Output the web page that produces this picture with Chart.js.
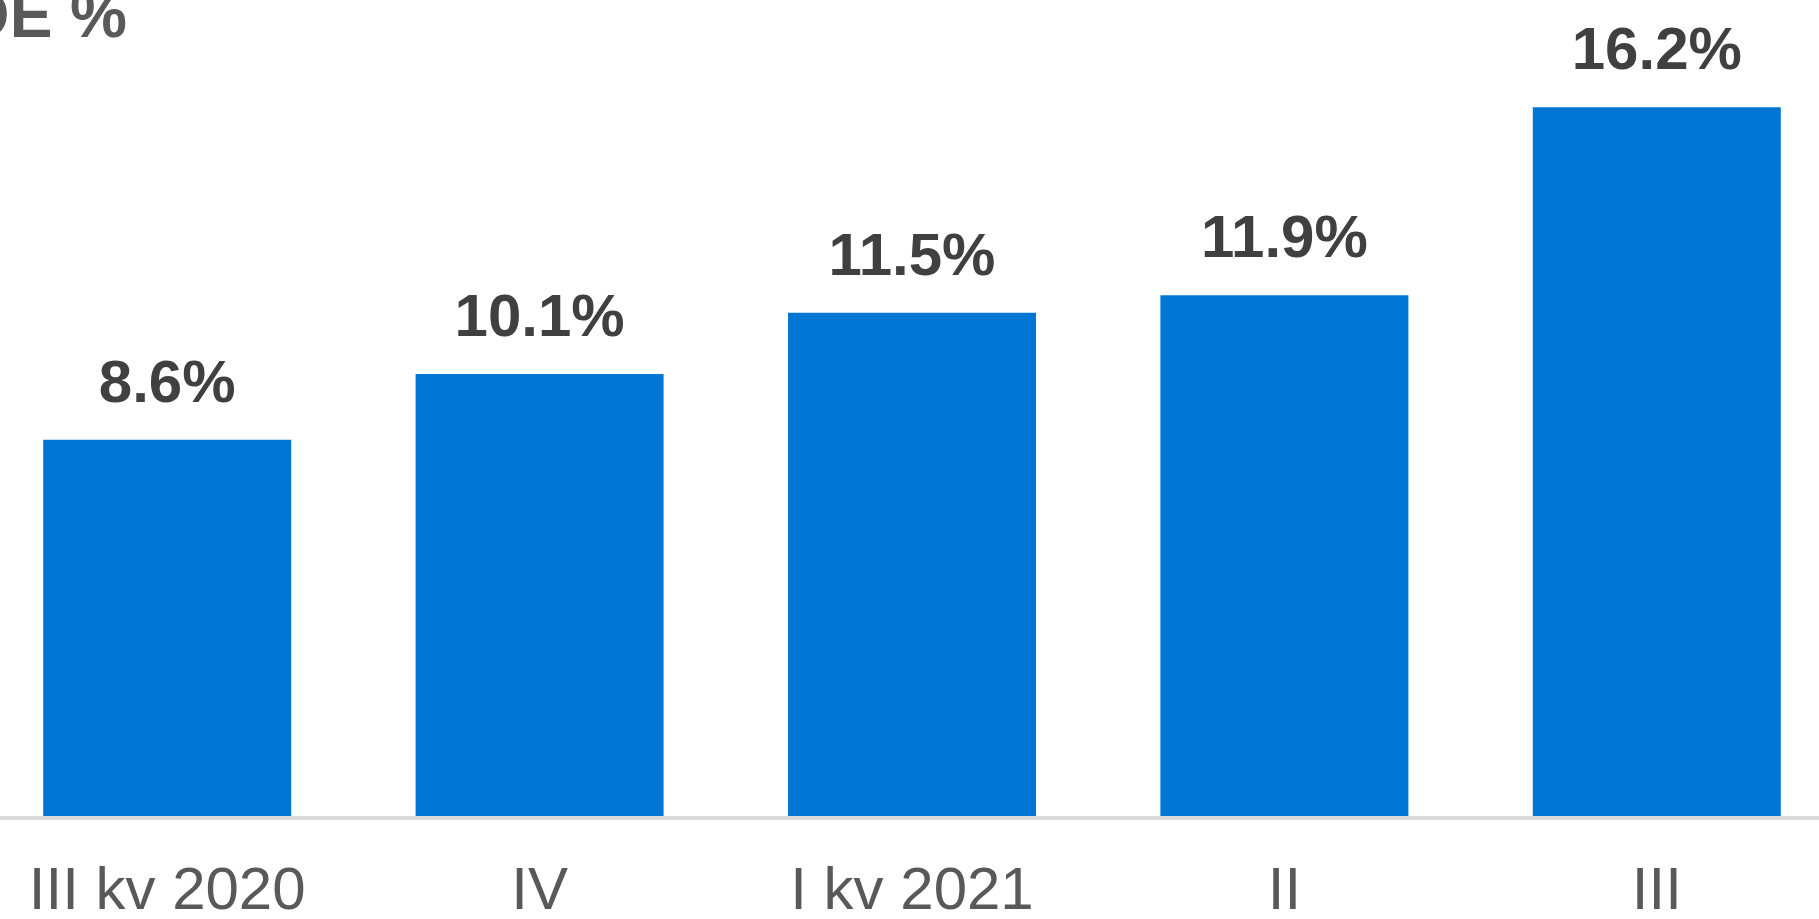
<!DOCTYPE html>
<html>
<head>
<meta charset="utf-8">
<script src="https://cdn.jsdelivr.net/npm/chart.js@4.4.0/dist/chart.umd.min.js"></script>
<style>
    html, body { margin: 0; padding: 0; background: #ffffff; overflow: hidden; }
    #wrap { position: relative; width: 1819px; height: 919px; overflow: hidden; }
    #roeChart { position: absolute; left: -19px; top: 0; }
</style>
</head>
<body>
<div id="wrap">
    <canvas id="roeChart" width="1862" height="919"></canvas>
</div>
<script>
// ROE by quarter
const quarters = ['III kv 2020', 'IV', 'I kv 2021', 'II', 'III'];
const roeValues = [8.6, 10.1, 11.5, 11.9, 16.2];
const chartTitle = 'ROE %';

const FONT = '"Liberation Sans", Arial, sans-serif';
const CANVAS_SHIFT = 19; // canvas is shifted left so the first bar sits near the page edge

// Draws the title, the base line and the value labels
const decorPlugin = {
    id: 'decor',
    beforeDatasetsDraw(chart) {
        const ctx = chart.ctx;
        const area = chart.chartArea;
        ctx.save();
        ctx.fillStyle = '#d9d9d9';
        ctx.fillRect(0, area.bottom, chart.width, 4);
        ctx.restore();
    },
    afterDatasetsDraw(chart) {
        const ctx = chart.ctx;
        const meta = chart.getDatasetMeta(0);
        ctx.save();
        ctx.font = 'bold 60px ' + FONT;
        ctx.fillStyle = '#404040';
        ctx.textAlign = 'center';
        ctx.textBaseline = 'alphabetic';
        meta.data.forEach((bar, i) => {
            ctx.fillText(roeValues[i].toFixed(1) + '%', bar.x, bar.y - 38);
        });

        // title, mostly cut off on the left like the original slide
        ctx.font = 'bold 64px ' + FONT;
        ctx.fillStyle = '#595959';
        ctx.textAlign = 'right';
        ctx.fillText(chartTitle, 127 + CANVAS_SHIFT, 37);
        ctx.restore();
    }
};

const ctx = document.getElementById('roeChart');
window.roeChart = new Chart(ctx, {
    type: 'bar',
    data: {
        labels: quarters,
        datasets: [{
            label: chartTitle,
            data: roeValues,
            backgroundColor: '#0077d4',
            borderWidth: 0,
            barPercentage: 0.666,
            categoryPercentage: 1.0
        }]
    },
    options: {
        responsive: false,
        animation: false,
        devicePixelRatio: 1,
        layout: { padding: 0 },
        plugins: {
            legend: { display: false },
            tooltip: { enabled: false },
            title: { display: false }
        },
        scales: {
            x: {
                grid: { display: false, drawTicks: false },
                border: { display: false },
                ticks: {
                    color: '#595959',
                    font: { family: FONT, size: 60 },
                    padding: 40,
                    maxRotation: 0,
                    autoSkip: false
                },
                afterFit(scale) {
                    scale.height = 103;
                }
            },
            y: {
                display: false,
                min: 0,
                max: 18.65
            }
        }
    },
    plugins: [decorPlugin]
});
</script>
</body>
</html>
